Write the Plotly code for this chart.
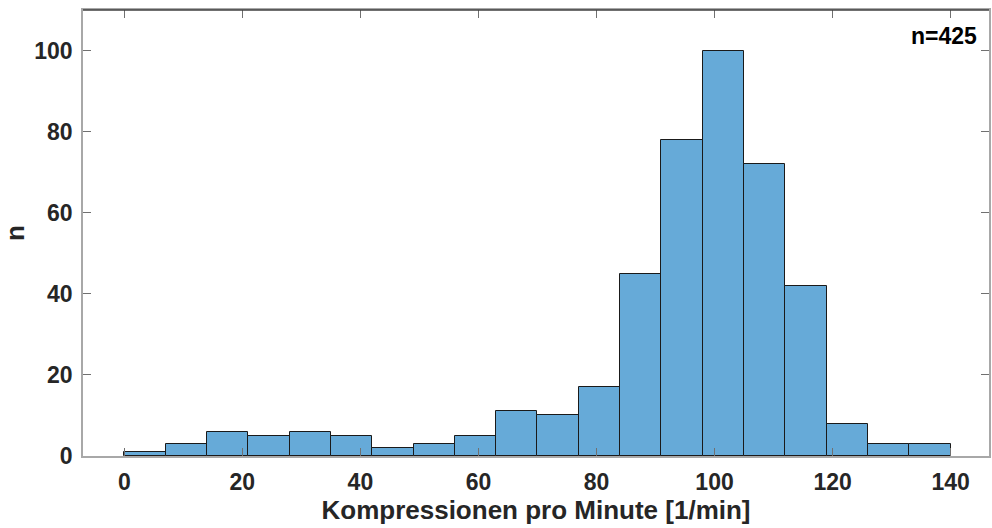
import plotly.graph_objects as go

bin_edges = [0, 7, 14, 21, 28, 35, 42, 49, 56, 63, 70, 77, 84, 91, 98, 105, 112, 119, 126, 133, 140]
counts = [1, 3, 6, 5, 6, 5, 2, 3, 5, 11, 10, 17, 45, 78, 100, 72, 42, 8, 3, 3]
x_ticks = [0, 20, 40, 60, 80, 100, 120, 140]
y_ticks = [0, 20, 40, 60, 80, 100]

centers = [(bin_edges[i] + bin_edges[i + 1]) / 2 for i in range(len(counts))]
widths = [bin_edges[i + 1] - bin_edges[i] for i in range(len(counts))]

fig = go.Figure(go.Bar(
    x=centers, y=counts, width=widths,
    marker=dict(color="#66aad8", line=dict(color="#1a1a1a", width=1)),
))

font = "Liberation Sans, Arial, sans-serif"
axis_common = dict(
    showline=True, linecolor="#a8a8a8", linewidth=1.5, mirror="ticks",
    ticks="inside", ticklen=8, tickcolor="#707070", showgrid=False, zeroline=False,
    tickfont=dict(family=font, size=23, color="#262626", weight="bold"),
)
fig.update_xaxes(range=[-7, 146.5], tickvals=x_ticks, ticklabelstandoff=5,
                 title=dict(text="Kompressionen pro Minute [1/min]",
                            font=dict(family=font, size=26, color="#262626", weight="bold"), standoff=0),
                 **axis_common)
fig.update_yaxes(range=[0, 110], tickvals=y_ticks, ticklabelstandoff=4,
                 title=dict(text="n", font=dict(family=font, size=26, color="#262626", weight="bold"), standoff=14),
                 **axis_common)

# darker top border like the reference box
fig.add_shape(type="line", xref="paper", yref="paper", x0=0, x1=1, y0=1, y1=1,
              line=dict(color="#404040", width=1.5))

fig.add_annotation(x=0.9895, y=0.975, xref="paper", yref="paper", xanchor="right", yanchor="top",
                   text="n=425", showarrow=False,
                   font=dict(family=font, size=23, color="#000000", weight="bold"))

fig.update_layout(
    width=992, height=528, margin=dict(l=83, r=1, t=10, b=72),
    plot_bgcolor="white", paper_bgcolor="white", showlegend=False, bargap=0,
)
fig.write_html("out.html")
